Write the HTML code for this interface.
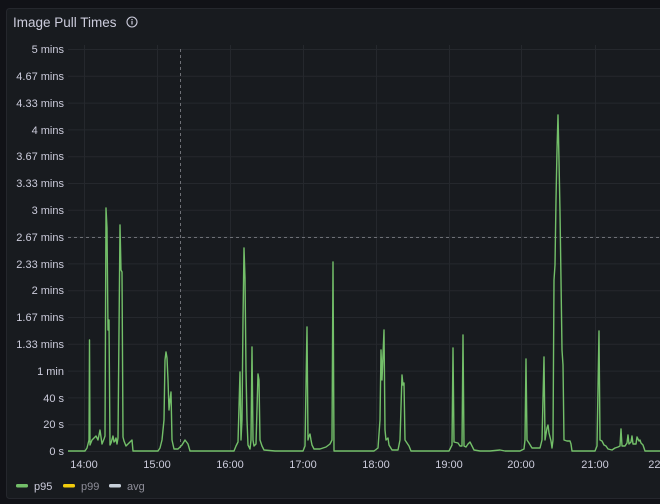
<!DOCTYPE html>
<html><head><meta charset="utf-8"><style>
html,body{margin:0;padding:0;background:#111217;width:660px;height:504px;overflow:hidden;font-family:"Liberation Sans",sans-serif}
</style></head><body>
<svg width="660" height="504" viewBox="0 0 660 504" xmlns="http://www.w3.org/2000/svg" font-family="Liberation Sans, sans-serif">
<rect x="6.5" y="8.5" width="670" height="490" rx="3" fill="#181b1f" stroke="#25272d"/>
<text x="13" y="27" fill="#ccccdc" font-size="13.5">Image Pull Times</text>
<circle cx="132" cy="22" r="5" fill="none" stroke="#ccccdc" stroke-width="1.1"/>
<rect x="131.4" y="21" width="1.2" height="3.5" fill="#ccccdc"/><rect x="131.4" y="19" width="1.2" height="1.2" fill="#ccccdc"/>
<g stroke="#25282d" stroke-width="1">
<line x1="68" x2="660" y1="49.5" y2="49.5"/><line x1="68" x2="660" y1="76.3" y2="76.3"/><line x1="68" x2="660" y1="103.1" y2="103.1"/><line x1="68" x2="660" y1="129.9" y2="129.9"/><line x1="68" x2="660" y1="156.7" y2="156.7"/><line x1="68" x2="660" y1="183.5" y2="183.5"/><line x1="68" x2="660" y1="210.3" y2="210.3"/><line x1="68" x2="660" y1="237.1" y2="237.1"/><line x1="68" x2="660" y1="263.9" y2="263.9"/><line x1="68" x2="660" y1="290.7" y2="290.7"/><line x1="68" x2="660" y1="317.5" y2="317.5"/><line x1="68" x2="660" y1="344.3" y2="344.3"/><line x1="68" x2="660" y1="371.1" y2="371.1"/><line x1="68" x2="660" y1="397.9" y2="397.9"/><line x1="68" x2="660" y1="424.7" y2="424.7"/><line x1="68" x2="660" y1="451.5" y2="451.5"/>
<line x1="84.5" x2="84.5" y1="45" y2="452"/><line x1="157.5" x2="157.5" y1="45" y2="452"/><line x1="230.5" x2="230.5" y1="45" y2="452"/><line x1="303.5" x2="303.5" y1="45" y2="452"/><line x1="376.5" x2="376.5" y1="45" y2="452"/><line x1="449.5" x2="449.5" y1="45" y2="452"/><line x1="521.5" x2="521.5" y1="45" y2="452"/><line x1="595.5" x2="595.5" y1="45" y2="452"/>
</g>
<line x1="180.5" x2="180.5" y1="49" y2="452" stroke="#6e7076" stroke-dasharray="3,3"/>
<line x1="68" x2="660" y1="237.5" y2="237.5" stroke="#6e7076" stroke-dasharray="3,3"/>
<g fill="#ccccdc" font-size="11" text-anchor="end">
<text x="64" y="53">5 mins</text><text x="64" y="80">4.67 mins</text><text x="64" y="107">4.33 mins</text><text x="64" y="134">4 mins</text><text x="64" y="160">3.67 mins</text><text x="64" y="187">3.33 mins</text><text x="64" y="214">3 mins</text><text x="64" y="241">2.67 mins</text><text x="64" y="268">2.33 mins</text><text x="64" y="294">2 mins</text><text x="64" y="321">1.67 mins</text><text x="64" y="348">1.33 mins</text><text x="64" y="375">1 min</text><text x="64" y="402">40 s</text><text x="64" y="428">20 s</text><text x="64" y="455">0 s</text>
</g>
<g fill="#ccccdc" font-size="11" text-anchor="middle">
<text x="84" y="468">14:00</text><text x="157" y="468">15:00</text><text x="230" y="468">16:00</text><text x="303" y="468">17:00</text><text x="376" y="468">18:00</text><text x="449" y="468">19:00</text><text x="521" y="468">20:00</text><text x="595" y="468">21:00</text><text x="662" y="468">22:00</text>
</g>
<polyline fill="none" stroke="#73bf69" stroke-width="1.4" stroke-linejoin="round" points="
68,451 85,451 87,448 89,440 89.5,340 90,445 92,440 94,438 96,436 98,440 100,430 102,444 104,439 105,436 106,208 107,228 108,330 109,320 110,445 111,443 113,436 114,442 115,441 116,438 117,444 118,438 120,225 121,270 122,272 123,437 124,441 126,446 128,444 130,442 132,440 133,451 140,451
158,451 160,448 162,440 164,420 165,360 166,352 167,358 168,380 169,410 170,400 171,392 172,440 174,449 178,449 182,445 185,440 188,444 190,451 197,451
203,451 222,451 234,451 236,446 238,442 240,372 241,440 242,420 243,320 244,248 245,278 246,370 247,420 248,445 250,449 251,440 252,347 253,440 254,446 256,444 258,374 259,380 260,440 262,446 264,450 275,451
303,451 305,446 307,327 308,440 309,436 310,434 311,440 312,445 314,449 320,449 326,447 330,444 332,440 333,262 334,451 345,451
374,451 378,448 380,420 381,350 382,380 384,330 385,430 386,440 388,438 389,445 392,450 398,450 400,440 402,375 403,385 404,383 405,440 407,443 409,446 411,451 425,451
449,451 452,445 453,348 454,442 458,443 460,446 462,446 463,335 464,446 466,447 468,444 470,442 472,446 474,450 480,451 490,451 500,450 505,451 512,451
520,451 524,449 525,440 526,359 527,440 529,443 532,448 540,448 542,440 544,357 545,440 547,428 548,425 549,433 551,441 552,448 553,440 554,280 555,265 556,200 557,150 558,115 559,160 560,212 561,280 562,350 563,365 564,440 567,441 570,441 571,444 572,451 580,451
595,451 597,446 599,331 600,440 602,441 604,445 606,446 608,449 612,450 615,448 618,447 620,446 621,429 622,446 625,446 627,443 628,435 629,444 631,442 632,436 633,444 636,444 637,437 639,441 640,440 641,443 643,445 645,451 660,451"/>
<g font-size="11">
<rect x="16" y="484" width="12" height="3.5" rx="1.5" fill="#73bf69"/><text x="34" y="490" fill="#ccccdc">p95</text>
<rect x="63" y="484" width="12" height="3.5" rx="1.5" fill="#f2cc0c"/><text x="81" y="490" fill="#8e8e99">p99</text>
<rect x="109" y="484" width="12" height="3.5" rx="1.5" fill="#c7d0d9"/><text x="127" y="490" fill="#8e8e99">avg</text>
</g>
</svg>
</body></html>
